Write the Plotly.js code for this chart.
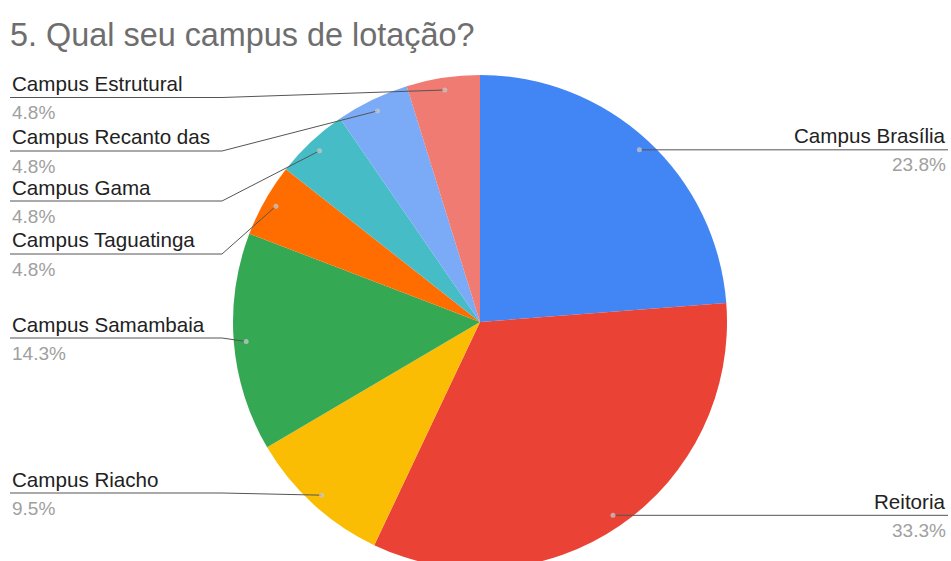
<!DOCTYPE html>
<html><head><meta charset="utf-8">
<script src="https://cdn.plot.ly/plotly-3.0.1.min.js"></script>
<style>
html,body{margin:0;padding:0;width:951px;height:561px;overflow:hidden;background:#fff}
#wrap{width:951px;height:561px;overflow:hidden;position:relative}
</style></head><body><div id="wrap"><div id="chart"></div></div>
<script>
// ---- data ----
const categories = ["Campus Brasília","Reitoria","Campus Riacho","Campus Samambaia","Campus Taguatinga","Campus Gama","Campus Recanto das","Campus Estrutural"];
const percentages = [23.8, 33.3, 9.5, 14.3, 4.8, 4.8, 4.8, 4.8];
const pctLabels = ["23.8%","33.3%","9.5%","14.3%","4.8%","4.8%","4.8%","4.8%"];
const sliceColors = ["#4285F4","#EA4335","#FBBC04","#34A853","#FF6D01","#46BDC6","#7BAAF7","#F07B72"];
const chartTitle = "5. Qual seu campus de lotação?";

// ---- layout helpers (positions, not data) ----
const W = 951, H = 580, CX = 480, CY = 322, R = 247;
const X = px => px / W, Y = py => 1 - py / H;
const side = ["right","right","left","left","left","left","left","left"];
const leftLineY = [null, null, 493, 338, 254, 201, 151, 97.5];
const ELBOW = 222;
const FONT = "Arial, 'Liberation Sans', sans-serif";

const total = percentages.reduce((a,b)=>a+b,0);
let cum = 0;
const shapes = [], annotations = [];
percentages.forEach((v,i)=>{
  const mid = (cum + v/2) / total * 2 * Math.PI;
  cum += v;
  const dx = CX + 0.95 * R * Math.sin(mid);
  const dy = CY - 0.95 * R * Math.cos(mid);
  let ly, path, tx, anchor;
  if (side[i] === "right") {
    ly = dy;
    path = `M ${X(dx)} ${Y(dy)} L ${X(948)} ${Y(dy)}`;
    tx = X(948); anchor = "right";
  } else {
    ly = leftLineY[i];
    path = `M ${X(10)} ${Y(ly)} L ${X(ELBOW)} ${Y(ly)} L ${X(dx)} ${Y(dy)}`;
    tx = X(10); anchor = "left";
  }
  shapes.push({type:"path", xref:"paper", yref:"paper", path, line:{color:"#555555", width:1}});
  shapes.push({type:"circle", xref:"paper", yref:"paper",
    x0:X(dx-2.5), x1:X(dx+2.5), y0:Y(dy+2.5), y1:Y(dy-2.5),
    fillcolor:"rgba(200,200,200,0.75)", line:{width:0}});
  annotations.push({xref:"paper", yref:"paper", x:tx, y:Y(ly-14), xanchor:anchor, yanchor:"middle",
    text:categories[i], showarrow:false, font:{family:FONT, size:20.6, color:"#222222"}});
  annotations.push({xref:"paper", yref:"paper", x:tx, y:Y(ly+15), xanchor:anchor, yanchor:"middle",
    text:pctLabels[i], showarrow:false, font:{family:FONT, size:19, color:"#a0a0a0"}});
});

const trace = {
  type:"pie", labels:categories, values:percentages, sort:false, direction:"clockwise", rotation:0,
  marker:{colors:sliceColors, line:{width:0}}, textinfo:"none", hoverinfo:"label+percent",
  domain:{x:[X(CX-R), X(CX+R)], y:[Y(CY+R), Y(CY-R)]}, showlegend:false
};

const layout = {
  width:W, height:H, margin:{l:0,r:0,t:0,b:0},
  paper_bgcolor:"#ffffff", plot_bgcolor:"#ffffff",
  title:{text:chartTitle, xref:"paper", yref:"container", x:X(10), xanchor:"left", y:Y(35), yanchor:"middle",
    font:{family:FONT, size:32.4, color:"#6e6e6e"}},
  shapes, annotations, showlegend:false
};
Plotly.newPlot("chart", [trace], layout, {displayModeBar:false, staticPlot:true});
</script></body></html>
